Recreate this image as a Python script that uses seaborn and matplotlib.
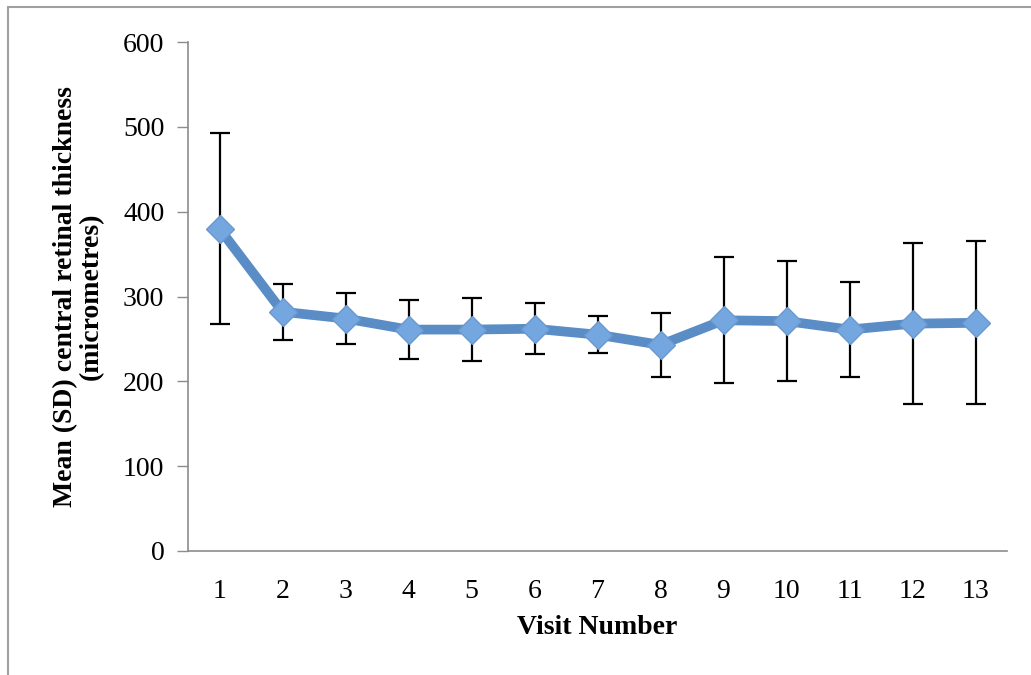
import numpy as np
import pandas as pd
import matplotlib
matplotlib.use("Agg")
import matplotlib.pyplot as plt
from matplotlib.lines import Line2D
import seaborn as sns

# Data
visits = [1, 2, 3, 4, 5, 6, 7, 8, 9, 10, 11, 12, 13]
mean_crt = [380, 282, 274, 261, 261, 262, 255, 243, 272, 271, 261, 268, 269]
sd_crt = [113, 33, 30, 35, 37, 30, 22, 38, 74, 71, 56, 95, 96]

df = pd.DataFrame({"visit": visits, "mean": mean_crt, "sd": sd_crt})

sns.set_style("white")
plt.rcParams["font.family"] = ["Liberation Serif", "DejaVu Serif"]
plt.rcParams["text.color"] = "black"
plt.rcParams["axes.labelcolor"] = "black"
plt.rcParams["xtick.labelcolor"] = "black"
plt.rcParams["ytick.labelcolor"] = "black"

fig = plt.figure(figsize=(10.31, 6.75), dpi=100)
ax = fig.add_axes([188 / 1031, 1 - 551 / 675, 819 / 1031, 509 / 675])

# error bars first, then line and markers on top
ax.errorbar(df["visit"], df["mean"], yerr=df["sd"], fmt="none",
            ecolor="black", elinewidth=1.6, capsize=7, capthick=1.6, zorder=2)
sns.lineplot(data=df, x="visit", y="mean", ax=ax, color="#5A8CC6",
             linewidth=7, marker="D", markersize=14,
             markerfacecolor="#74A6E0", markeredgecolor="#6A98CF",
             markeredgewidth=1.0, zorder=3)

ax.set_xlim(0.5, 13.5)
ax.set_ylim(0, 600)
ax.set_yticks(range(0, 601, 100))
ax.set_xticks(visits)
ax.set_xticks(np.arange(0.5, 13.6, 1), minor=True)
ax.tick_params(axis="x", which="major", length=0, pad=20, labelsize=20)
ax.tick_params(axis="x", which="minor", length=8, width=1, color="#8c8c8c",
               direction="out")
ax.tick_params(axis="y", length=8, width=1, color="#8c8c8c", direction="out",
               pad=9, labelsize=20, left=True)

for side in ["top", "right"]:
    ax.spines[side].set_visible(False)
for side in ["left", "bottom"]:
    ax.spines[side].set_color("#8c8c8c")
    ax.spines[side].set_linewidth(1.2)

ax.set_xlabel("Visit Number", fontsize=20, fontweight="bold", labelpad=8)
ax.set_ylabel("Mean (SD) central retinal thickness\n(micrometres)",
              fontsize=20, fontweight="bold", labelpad=14, linespacing=1.0)

# outer frame (left and top edges visible)
fig.add_artist(Line2D([8 / 1031, 8 / 1031], [0, 1 - 7 / 675],
                      transform=fig.transFigure, color="#a0a0a0", lw=1.5))
fig.add_artist(Line2D([8 / 1031, 1], [1 - 7 / 675, 1 - 7 / 675],
                      transform=fig.transFigure, color="#a0a0a0", lw=1.5))

fig.savefig("out.png", dpi=100)
